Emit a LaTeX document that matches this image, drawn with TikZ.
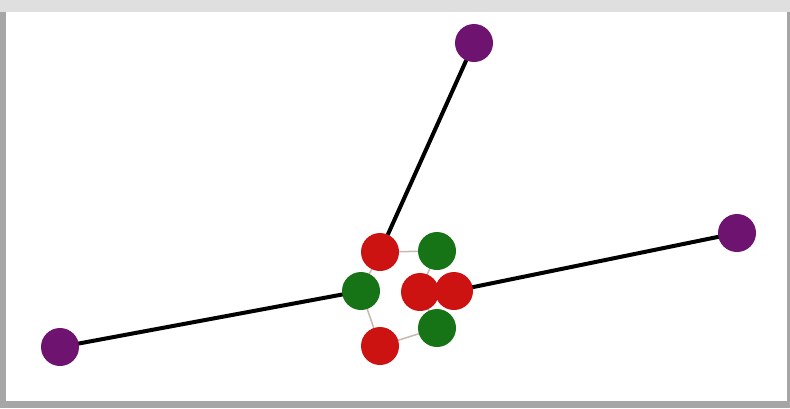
\documentclass[tikz,border=0pt]{standalone}
\definecolor{pur}{RGB}{110,20,112}
\definecolor{rd}{RGB}{205,18,18}
\definecolor{gr}{RGB}{22,115,22}
\definecolor{lightedge}{RGB}{200,185,175}
\tikzset{
  vtx/.style={circle,inner sep=0pt,minimum size=38pt},
  pv/.style={vtx,fill=pur},
  rv/.style={vtx,fill=rd},
  gv/.style={vtx,fill=gr},
  heavy/.style={line width=4pt,black},
  light/.style={line width=1.5pt,draw=lightedge}
}
\begin{document}
\begin{tikzpicture}[x=1pt,y=-1pt]
\fill[gray!70] (0,0) rectangle (790,408);
\fill[gray!25] (0,0) rectangle (790,12);
\fill[white] (6,12) rectangle (787,401);
\useasboundingbox (0,0) rectangle (790,408);
% coordinates of vertices
\coordinate (pT) at (474,43);
\coordinate (pR) at (737,233);
\coordinate (pL) at (60,347);
\coordinate (rA) at (380,252);
\coordinate (gB) at (437,251);
\coordinate (gC) at (361,291);
\coordinate (rD) at (420,292);
\coordinate (rE) at (454,291);
\coordinate (gF) at (437,328);
\coordinate (rG) at (380,346);
% thin edges
\draw[light] (rA) -- (gB);
\draw[light] (rA) -- (gC);
\draw[light] (gC) -- (rG);
\draw[light] (rG) -- (gF);
\draw[light] (gB) -- (rD);
\draw[light] (rD) -- (gF);
% heavy edges
\draw[heavy] (pT) -- (rA);
\draw[heavy] (pL) -- (gC);
\draw[heavy] (rE) -- (pR);
% nodes
\node[pv] (nT) at (pT) {};
\node[pv] (nR) at (pR) {};
\node[pv] (nL) at (pL) {};
\node[rv] (nA) at (rA) {};
\node[gv] (nB) at (gB) {};
\node[gv] (nC) at (gC) {};
\node[gv] (nF) at (gF) {};
\node[rv] (nG) at (rG) {};
\node[rv] (nD) at (rD) {};
\node[rv] (nE) at (rE) {};
\end{tikzpicture}
\end{document}
